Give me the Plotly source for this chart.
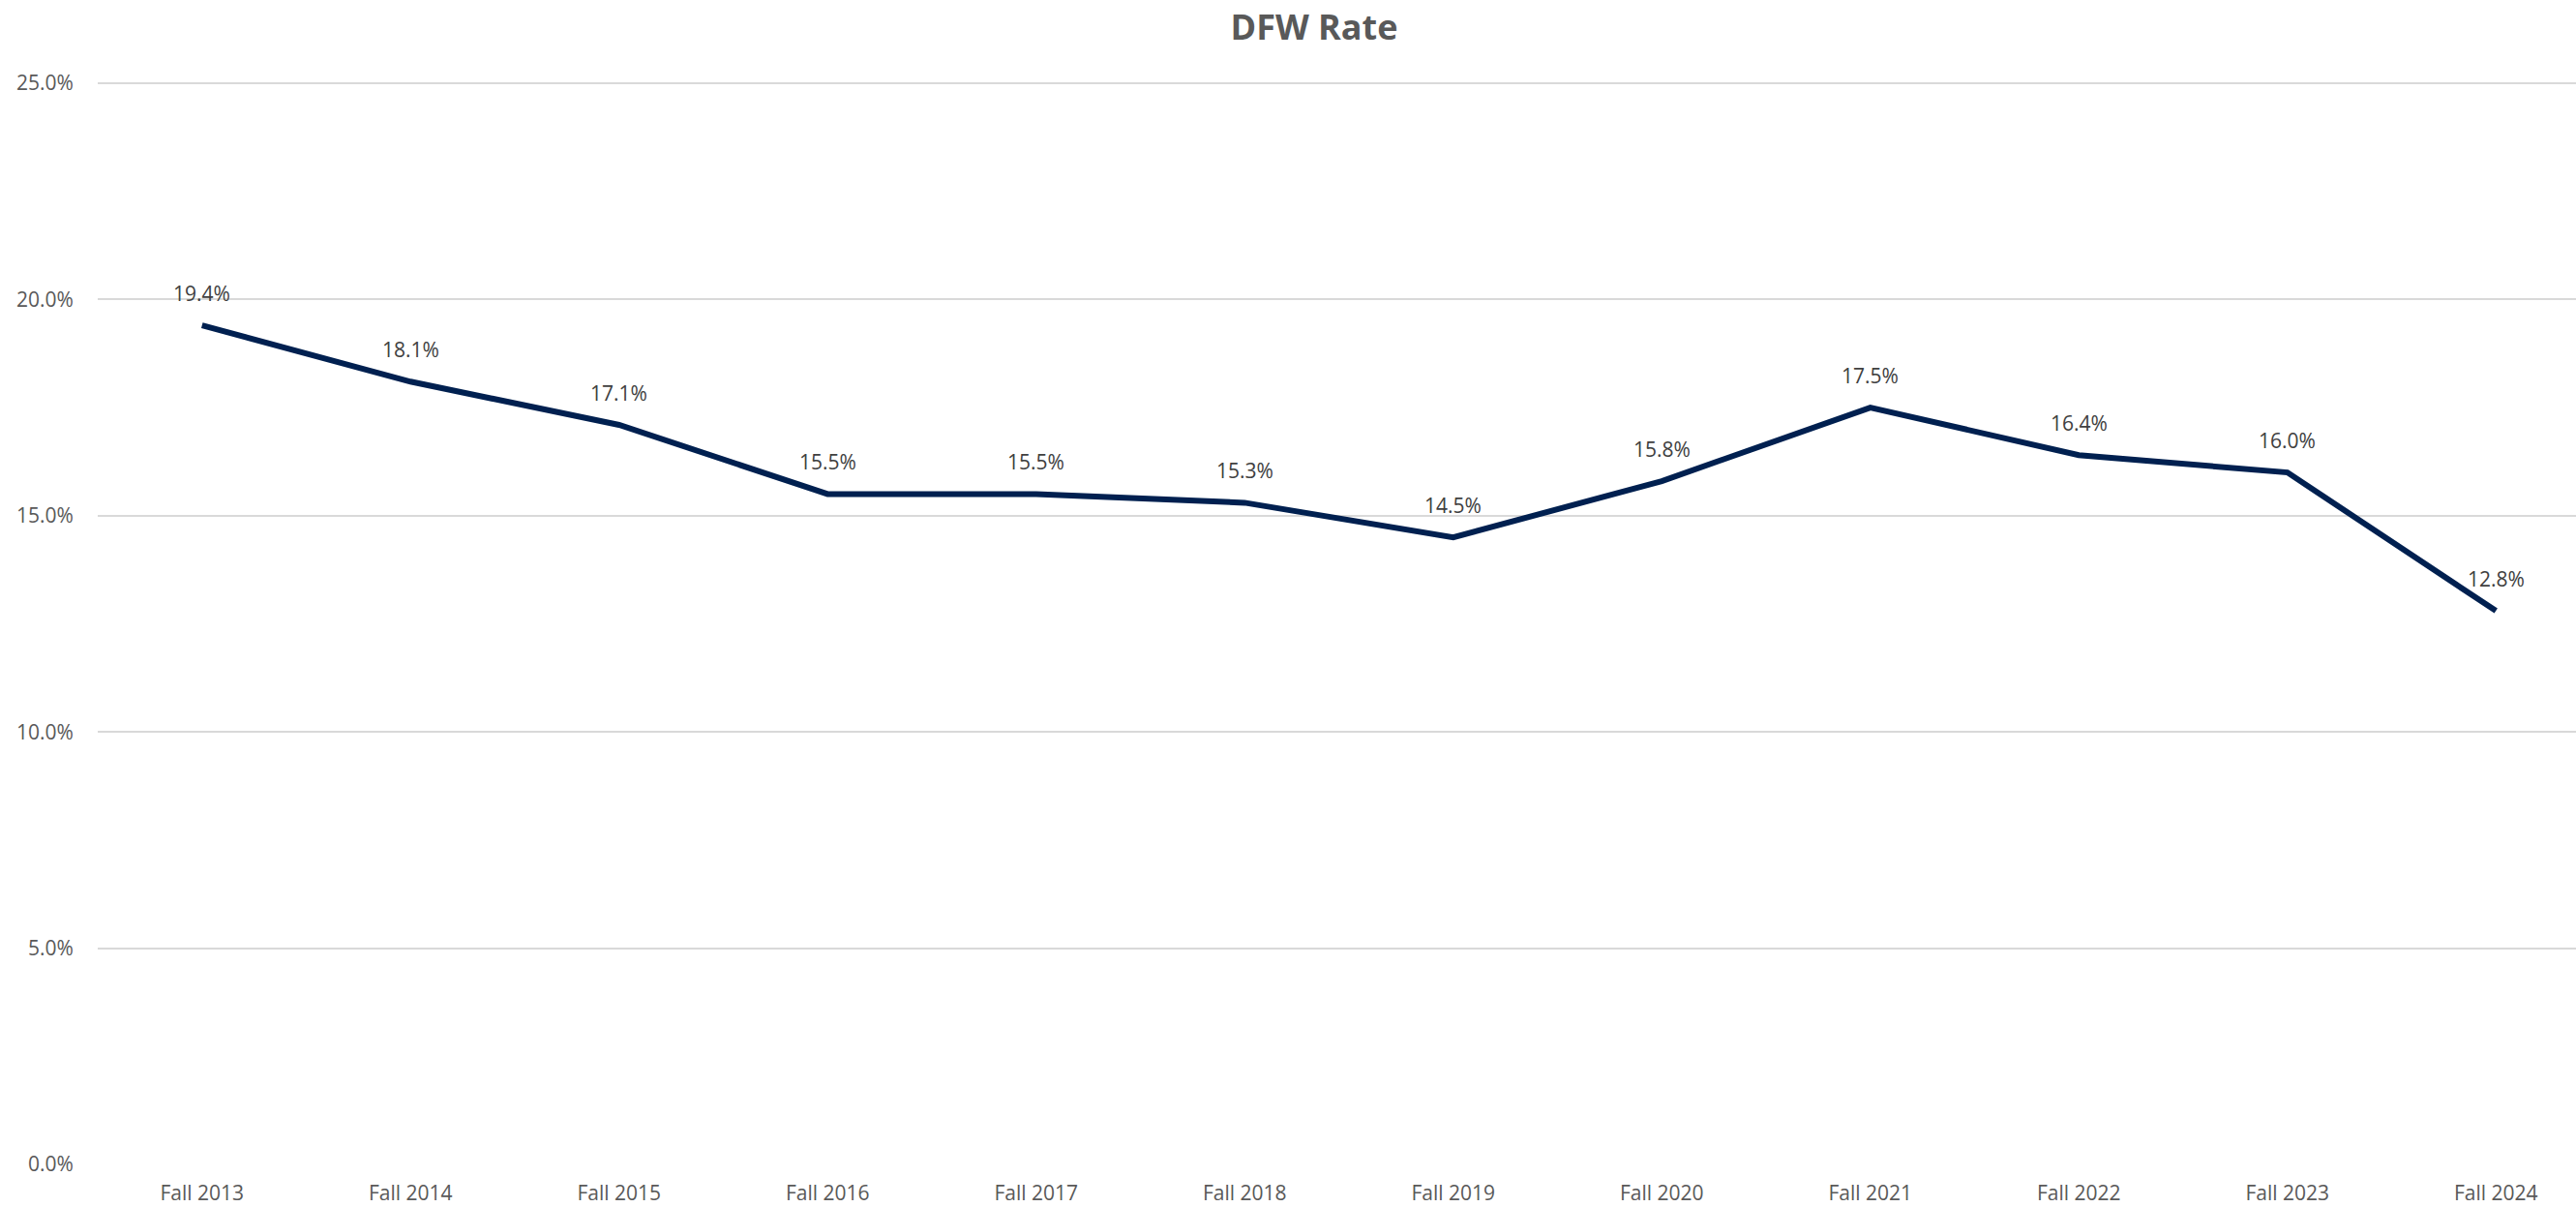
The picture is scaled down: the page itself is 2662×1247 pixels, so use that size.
import plotly.graph_objects as go

categories = ["Fall 2013", "Fall 2014", "Fall 2015", "Fall 2016", "Fall 2017", "Fall 2018",
              "Fall 2019", "Fall 2020", "Fall 2021", "Fall 2022", "Fall 2023", "Fall 2024"]
dfw_rate = [19.4, 18.1, 17.1, 15.5, 15.5, 15.3, 14.5, 15.8, 17.5, 16.4, 16.0, 12.8]
y_ticks = [0, 5, 10, 15, 20, 25]

W, H = 2662, 1247
FONT = "Open Sans"
PX_PER_PCT = (1203 - 86) / 25.0
M_L, M_R, M_T, M_B = 101, 0, 82, 44

x_idx = list(range(len(categories)))

fig = go.Figure()
fig.add_trace(go.Scatter(
    x=x_idx, y=dfw_rate, mode="lines",
    line=dict(color="#002050", width=6),
    hoverinfo="skip", showlegend=False,
))

for i, v in zip(x_idx, dfw_rate):
    fig.add_annotation(x=i, y=v, text=f"{v:.1f}%", showarrow=False,
                       yshift=33, yanchor="middle", xanchor="center",
                       font=dict(family=FONT, size=21, color="#404040"))

fig.update_layout(
    width=W, height=H,
    paper_bgcolor="white", plot_bgcolor="white",
    margin=dict(l=M_L, r=M_R, t=M_T, b=M_B, autoexpand=False),
    title=dict(text="<b>DFW Rate</b>", x=1358 / W, xanchor="center",
               y=1 - 28 / H, yanchor="middle",
               font=dict(family=FONT, size=36, color="#595959")),
    xaxis=dict(
        range=[-0.5, -0.5 + (W - M_L - M_R) / 215.5],
        tickvals=x_idx, ticktext=categories,
        showgrid=False, zeroline=False, showline=False,
        ticks="outside", ticklen=11, tickcolor="rgba(0,0,0,0)",
        tickfont=dict(family=FONT, size=21, color="#595959"),
        fixedrange=True,
    ),
    yaxis=dict(
        range=[0, (H - M_T - M_B) / PX_PER_PCT],
        tickvals=y_ticks, ticktext=[f"{t:.1f}%" for t in y_ticks],
        showgrid=True, gridcolor="#d9d9d9", gridwidth=2,
        zeroline=False, showline=False,
        ticks="outside", ticklen=20, tickcolor="rgba(0,0,0,0)",
        tickfont=dict(family=FONT, size=21, color="#595959"),
        fixedrange=True,
    ),
)

fig.write_html(
    "out.html",
    config={"displayModeBar": False},
    post_script="document.body.style.margin='0';document.body.style.overflow='hidden';",
)
